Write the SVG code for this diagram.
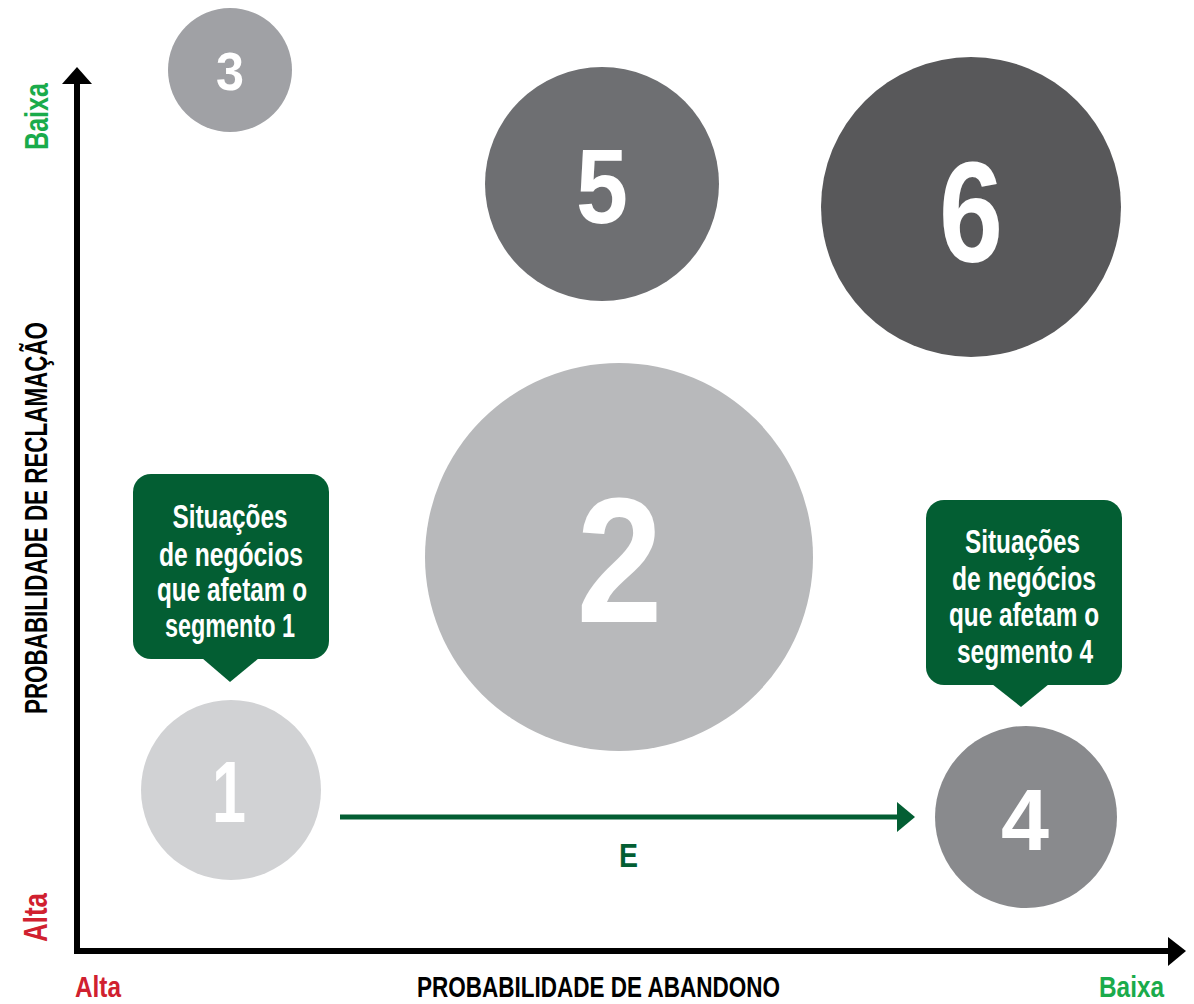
<svg xmlns="http://www.w3.org/2000/svg" width="1194" height="1004" viewBox="0 0 1194 1004">
  <style>
    .cond { font-family: "Liberation Sans Narrow", "Liberation Sans", "DejaVu Sans Condensed", sans-serif; font-weight: bold; }
    .num { fill: #ffffff; text-anchor: middle; }
    .call { fill: #ffffff; font-size: 33px; text-anchor: middle; }
    .axis { stroke: #000000; stroke-width: 6; fill: none; }
    .green { fill: #1aab4b; }
    .red { fill: #d0202f; }
    .box { fill: #035e33; }
  </style>
  <rect width="1194" height="1004" fill="#ffffff"/>

  <!-- axes -->
  <g id="axes">
    <polyline class="axis" points="77,82 77,951 1170,951"/>
    <polygon points="77,67 62,84 92,84" fill="#000"/>
    <polygon points="1186,951 1168,937 1168,966" fill="#000"/>
  </g>

  <!-- axis labels -->
  <g id="labels" class="cond">
    <text class="green" font-size="34" transform="translate(48,116.5) rotate(-90)" text-anchor="middle" textLength="67" lengthAdjust="spacingAndGlyphs">Baixa</text>
    <text fill="#000" font-size="31" transform="translate(47,518) rotate(-90)" text-anchor="middle" textLength="392" lengthAdjust="spacingAndGlyphs">PROBABILIDADE DE RECLAMAÇÃO</text>
    <text class="red" font-size="34" transform="translate(47,917.5) rotate(-90)" text-anchor="middle" textLength="49" lengthAdjust="spacingAndGlyphs">Alta</text>
    <text class="red" font-size="30" x="75" y="997" textLength="46" lengthAdjust="spacingAndGlyphs">Alta</text>
    <text fill="#000" font-size="29" x="598.5" y="997" text-anchor="middle" textLength="363" lengthAdjust="spacingAndGlyphs">PROBABILIDADE DE ABANDONO</text>
    <text class="green" font-size="30" x="1099" y="997" textLength="65" lengthAdjust="spacingAndGlyphs">Baixa</text>
  </g>

  <!-- segment bubbles -->
  <g id="seg3" class="cond">
    <circle cx="230" cy="70" r="62" fill="#a0a1a5"/>
    <text class="num" x="230" y="90" font-size="53" textLength="28" lengthAdjust="spacingAndGlyphs">3</text>
  </g>
  <g id="seg5" class="cond">
    <circle cx="602" cy="184" r="117" fill="#6e6f72"/>
    <text class="num" x="602" y="223" font-size="106" textLength="52" lengthAdjust="spacingAndGlyphs">5</text>
  </g>
  <g id="seg6" class="cond">
    <circle cx="971" cy="207" r="150" fill="#58585a"/>
    <text class="num" x="971" y="262" font-size="142" textLength="64" lengthAdjust="spacingAndGlyphs">6</text>
  </g>
  <g id="seg2" class="cond">
    <circle cx="619" cy="557" r="194" fill="#b8b9bb"/>
    <text class="num" x="619.5" y="622" font-size="178" textLength="86" lengthAdjust="spacingAndGlyphs">2</text>
  </g>
  <g id="seg1" class="cond">
    <circle cx="231" cy="790" r="90" fill="#d1d2d4"/>
    <text class="num" x="229" y="822" font-size="87" textLength="34" lengthAdjust="spacingAndGlyphs">1</text>
  </g>
  <g id="seg4" class="cond">
    <circle cx="1026" cy="817" r="91" fill="#898a8d"/>
    <text class="num" x="1025" y="850" font-size="88" textLength="48" lengthAdjust="spacingAndGlyphs">4</text>
  </g>

  <!-- callouts -->
  <g id="callout1" class="cond">
    <rect class="box" x="133" y="474" width="196" height="185" rx="18"/>
    <polygon class="box" points="202,658 259,658 230,682"/>
    <text class="call" x="230" y="528" textLength="115" lengthAdjust="spacingAndGlyphs">Situações</text>
    <text class="call" x="231" y="566" textLength="144" lengthAdjust="spacingAndGlyphs">de negócios</text>
    <text class="call" x="232" y="601" textLength="150" lengthAdjust="spacingAndGlyphs">que afetam o</text>
    <text class="call" x="230" y="637" textLength="130" lengthAdjust="spacingAndGlyphs">segmento 1</text>
  </g>
  <g id="callout4" class="cond">
    <rect class="box" x="926" y="500" width="196" height="185" rx="18"/>
    <polygon class="box" points="992,684 1049,684 1021,707"/>
    <text class="call" x="1022.5" y="553" textLength="115" lengthAdjust="spacingAndGlyphs">Situações</text>
    <text class="call" x="1024" y="590" textLength="144" lengthAdjust="spacingAndGlyphs">de negócios</text>
    <text class="call" x="1024" y="626" textLength="150" lengthAdjust="spacingAndGlyphs">que afetam o</text>
    <text class="call" x="1025" y="663" textLength="136" lengthAdjust="spacingAndGlyphs">segmento 4</text>
  </g>

  <!-- connector from segment 1 to segment 4 -->
  <g id="connectors">
    <line x1="340" y1="817" x2="900" y2="817" stroke="#035e33" stroke-width="5"/>
    <polygon points="897,802 915,817 897,832" fill="#035e33"/>
    <text class="cond" x="628.5" y="867" font-size="34" fill="#035e33" text-anchor="middle" textLength="19" lengthAdjust="spacingAndGlyphs">E</text>
  </g>
</svg>
